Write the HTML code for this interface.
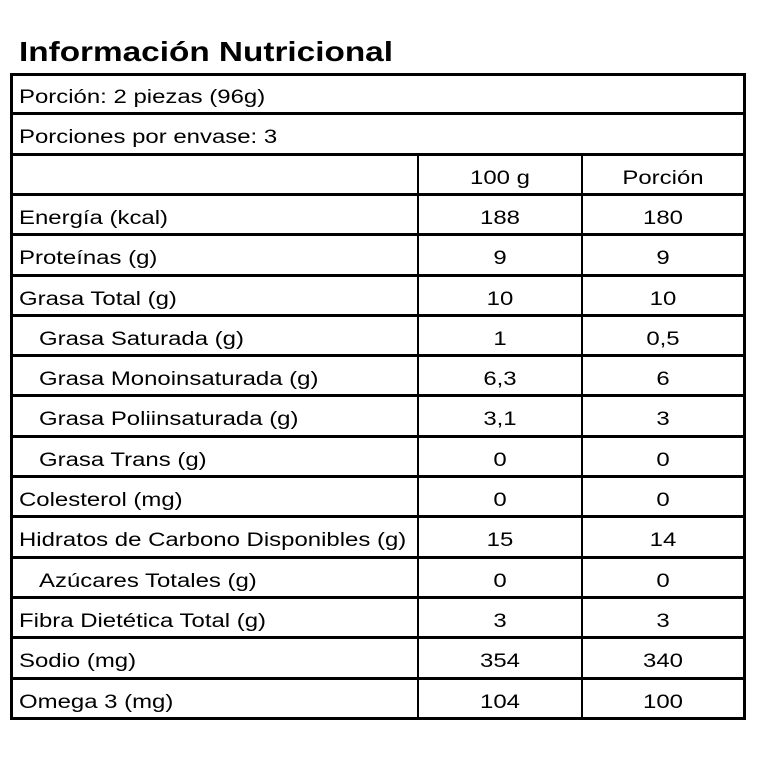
<!DOCTYPE html>
<html><head><meta charset="utf-8"><style>
body{margin:0;width:760px;height:760px;background:#fff;position:relative;overflow:hidden;font-family:"Liberation Sans",sans-serif;color:#000}
.t{position:absolute;left:19px;top:36px;font-size:28px;font-weight:bold;transform:scaleX(1.19);transform-origin:0 0;white-space:nowrap}
.l{position:absolute;background:#000}
.x{position:absolute;font-size:19px;line-height:20px;white-space:nowrap;transform:scaleX(1.26);transform-origin:0 0}
.c{text-align:center;transform-origin:50% 0}
</style></head><body>
<div class="t">Información Nutricional</div>
<div id="g"></div>
<script>
var g=document.getElementById('g'),h='';
var T=73,R=40.3,L=10,W=736;
function ln(x,y,w,hh){h+='<div class="l" style="left:'+x+'px;top:'+y+'px;width:'+w+'px;height:'+hh+'px"></div>';}
ln(L,T,W,3);ln(L,T+16*R-1,W,3);ln(L,T,3,16*R+2);ln(L+W-3,T,3,16*R+2);
for(var k=1;k<16;k++)ln(L,Math.round(T+k*R)-1,W,3);
ln(417,Math.round(T+2*R),2,14*R);ln(581,Math.round(T+2*R),2,14*R);
var rows=[["Porción: 2 piezas (96g)"],["Porciones por envase: 3"],["","100 g","Porción"],
["Energía (kcal)","188","180"],["Proteínas (g)","9","9"],["Grasa Total (g)","10","10"],
[" Grasa Saturada (g)","1","0,5"],[" Grasa Monoinsaturada (g)","6,3","6"],[" Grasa Poliinsaturada (g)","3,1","3"],
[" Grasa Trans (g)","0","0"],["Colesterol (mg)","0","0"],["Hidratos de Carbono Disponibles (g)","15","14"],
[" Azúcares Totales (g)","0","0"],["Fibra Dietética Total (g)","3","3"],["Sodio (mg)","354","340"],["Omega 3 (mg)","104","100"]];
rows.forEach(function(r,i){var y=Math.round(T+i*R+15);var ind=r[0][0]==' ';
h+='<div class="x" style="left:'+(ind?39:19)+'px;top:'+y+'px">'+r[0].trim()+'</div>';
if(r.length>1){h+='<div class="x c" style="left:419px;width:162px;top:'+y+'px">'+r[1]+'</div>';
h+='<div class="x c" style="left:583px;width:160px;top:'+y+'px">'+r[2]+'</div>';}});
g.innerHTML=h;
</script>
</body></html>
